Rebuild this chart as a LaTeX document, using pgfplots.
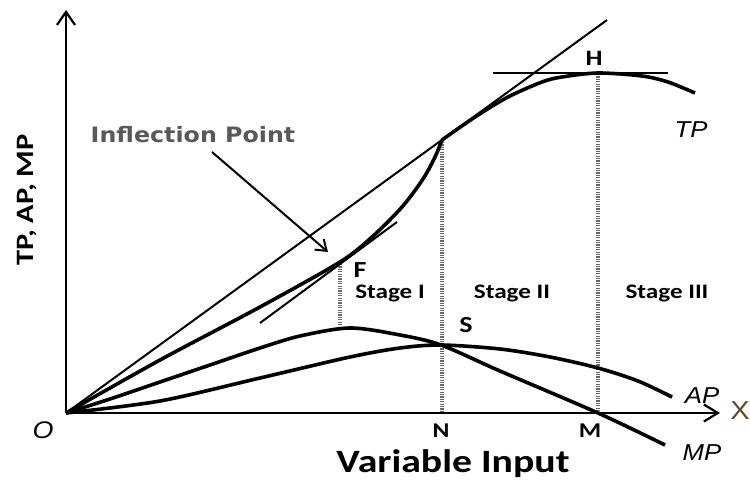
\documentclass[border=0pt]{standalone}
\usepackage{pgfplots}
\pgfplotsset{compat=1.18}
\usepackage{fontspec}
\setmainfont{Carlito}
\newfontfamily\calw[FakeStretch=1.22]{Carlito}
\newfontfamily\infl[FakeStretch=1.12]{DejaVu Sans}
\newfontfamily\arit[FakeStretch=1.12]{Liberation Sans}
\usetikzlibrary{arrows.meta}

\begin{document}
\begin{tikzpicture}
\begin{axis}[
    scale only axis,
    width=375pt, height=241.5pt,
    xmin=-66, xmax=684,
    ymin=-70, ymax=413,
    hide axis,
    clip=false,
    thin line/.style={black, line width=1pt},
    curve/.style={black, line width=1.8pt, smooth},
    guide/.style={black!60, line width=1.7pt, dash pattern=on 0.6pt off 0.6pt},
]
% axes
\addplot[black, line width=1.1pt, -{Straight Barb[length=6.5pt,width=9pt]}] coordinates {(0,0) (0,403)};
\addplot[black, line width=1.1pt, -{Straight Barb[length=7pt,width=8.5pt]}] coordinates {(0,0) (654,0)};

% vertical guides
\addplot[guide] coordinates {(274,149) (274,88)};
\addplot[guide] coordinates {(376,271) (376,0)};
\addplot[guide] coordinates {(532,339) (532,0)};

% ray from origin, tangents
\addplot[thin line] coordinates {(0,0) (541,393)};
\addplot[thin line] coordinates {(427,340) (602,340)};
\addplot[thin line] coordinates {(194,90) (331,191)};

% TP
\addplot[curve] coordinates {
    (0,0) (94,53) (194,106) (274,151) (306,176) (336,206) (357,234) (369,256) (376,273)
};
\addplot[curve] coordinates {
    (376,273) (409,296) (442,316) (476,331) (496,336) (532,340) (576,337) (602,331) (629,320)
};

% MP
\addplot[curve] coordinates {
    (0,0) (44,14) (94,31) (144,48) (194,65) (234,77) (284,85) (334,78) (375,68)
    (434,42) (532,0) (599,-32)
};

% AP
\addplot[curve] coordinates {
    (0,0) (94,12) (194,35) (284,56) (334,65) (375,68)
    (434,64) (484,56) (532,45) (572,32) (606,16)
};

% annotation arrow
\draw[black, line width=1pt, -{Straight Barb[length=5pt,width=7pt]}]
    (axis cs:146,261) -- (axis cs:262,161);
\node[text=black!65, font=\infl\bfseries\fontsize{10.6}{12}\selectfont] at (axis cs:127,278) {Inflection Point};

% point labels
\node[font=\calw\bfseries\fontsize{11.5}{13}\selectfont] at (axis cs:294,143) {F};
\node[font=\calw\bfseries\fontsize{11}{13}\selectfont] at (axis cs:528,355) {H};
\node[font=\calw\bfseries\fontsize{11.5}{13}\selectfont] at (axis cs:400,88) {S};
\node[font=\calw\bfseries\fontsize{10.5}{12}\selectfont] at (axis cs:375,-18) {N};
\node[font=\calw\bfseries\fontsize{10.5}{12}\selectfont] at (axis cs:524,-18) {M};
\node[font=\arit\itshape\fontsize{12}{14}\selectfont] at (axis cs:-23,-17) {O};

% stage labels
\node[font=\calw\bfseries\fontsize{10.3}{12}\selectfont] at (axis cs:324,120) {Stage I};
\node[font=\calw\bfseries\fontsize{10.3}{12}\selectfont] at (axis cs:446,120) {Stage II};
\node[font=\calw\bfseries\fontsize{10.3}{12}\selectfont] at (axis cs:601,120) {Stage III};

% curve labels
\node[font=\arit\itshape\fontsize{11.5}{13}\selectfont] at (axis cs:625,283) {TP};
\node[font=\arit\itshape\fontsize{11.5}{13}\selectfont] at (axis cs:636,17) {AP};
\node[font=\arit\itshape\fontsize{11.5}{13}\selectfont] at (axis cs:636,-40) {MP};
\node[text=black!45!brown, inner sep=0pt, font=\arit\fontsize{13}{15}\selectfont] at (axis cs:674,2) {X};

% axis titles
\node[anchor=base, font=\calw\bfseries\fontsize{16.3}{19}\selectfont] at (axis cs:387,-59) {Variable Input};
\node[rotate=90, font=\calw\bfseries\fontsize{12.5}{15}\selectfont] at (axis cs:-39,213) {TP, AP, MP};
\end{axis}
\pgfresetboundingbox
\path (0,0) rectangle (375pt,241.5pt);
\end{tikzpicture}
\end{document}
